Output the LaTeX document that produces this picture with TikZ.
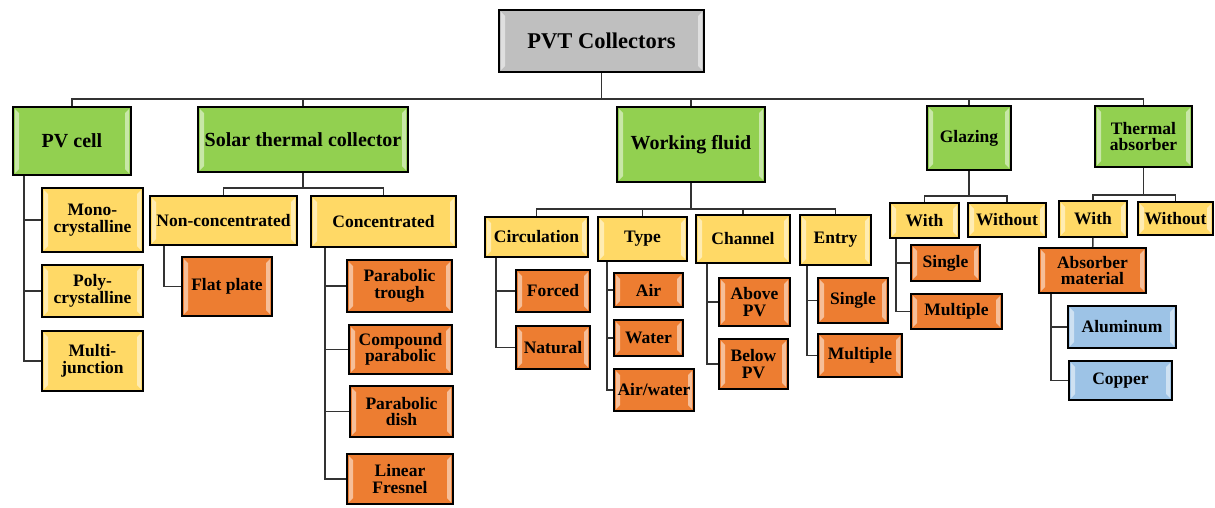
\documentclass[tikz,border=0pt]{standalone}
\usepackage{fontspec}
\setmainfont{Liberation Serif}
\definecolor{PVTGray}{HTML}{BFBFBF}
\definecolor{PVTGreen}{HTML}{92D050}
\definecolor{PVTYellow}{HTML}{FFD966}
\definecolor{PVTOrange}{HTML}{ED7D31}
\definecolor{PVTBlue}{HTML}{9DC3E6}
\begin{document}
\begin{tikzpicture}[
  x=1pt, y=-1pt,
  box/.style={draw=black, line width=1.8pt, align=center, inner sep=0pt,
    font=\fontsize{17.5}{16.5}\selectfont\bfseries,
    path picture={
      \fill[white,opacity=.5] ([xshift=2pt,yshift=-2pt]path picture bounding box.north west) -- ([xshift=6pt,yshift=-6pt]path picture bounding box.north west) -- ([xshift=6pt,yshift=6pt]path picture bounding box.south west) -- ([xshift=2pt,yshift=2pt]path picture bounding box.south west) -- cycle;
      \fill[white,opacity=.5] ([xshift=-2pt,yshift=-2pt]path picture bounding box.north east) -- ([xshift=-6pt,yshift=-6pt]path picture bounding box.north east) -- ([xshift=-6pt,yshift=6pt]path picture bounding box.south east) -- ([xshift=-2pt,yshift=2pt]path picture bounding box.south east) -- cycle;
    }},
  wh/.style 2 args={minimum width=#1pt, minimum height=#2pt},
  rootbox/.style={box, fill=PVTGray, font=\fontsize{22.5}{22}\selectfont\bfseries},
  catbox/.style={box, fill=PVTGreen, font=\fontsize{20}{19}\selectfont\bfseries},
  smallcat/.style={catbox, font=\fontsize{17.5}{16.5}\selectfont\bfseries},
  subbox/.style={box, fill=PVTYellow},
  leafbox/.style={box, fill=PVTOrange},
  metalbox/.style={box, fill=PVTBlue},
  link/.style={draw=black!80, line width=1.5pt}
]
\useasboundingbox (0,0) rectangle (1215,507);

% top level
\node[rootbox, wh={205}{62}] (root) at (601.5,41) {PVT Collectors};
\node[catbox, wh={118}{68}] (pv) at (72,141) {PV cell};
\node[catbox, wh={210}{65}] (stc) at (303,139.5) {Solar thermal collector};
\node[catbox, wh={148}{75}] (wf) at (691,144.5) {Working fluid};
\node[smallcat, wh={84}{64}] (gl) at (969,138) {Glazing};
\node[smallcat, wh={97}{61}] (ta) at (1143.5,136.5) {Thermal\\absorber};

% PV cell
\node[subbox, wh={101}{64}] (mono) at (92.5,220) {Mono-\\crystalline};
\node[subbox, wh={101}{52}] (poly) at (92.5,291) {Poly-\\crystalline};
\node[subbox, wh={101}{60}] (multi) at (92.5,361) {Multi-\\junction};

% solar thermal collector
\node[subbox, wh={147}{49}] (noncon) at (223.5,220.5) {Non-concentrated};
\node[subbox, wh={145}{51}] (conc) at (383.5,221.5) {Concentrated};
\node[leafbox, wh={90}{59}] (flat) at (227,286.5) {Flat plate};
\node[leafbox, wh={105}{52}] (ptrough) at (399.5,286) {Parabolic\\trough};
\node[leafbox, wh={103}{49}] (cpara) at (400.5,349.5) {Compound\\parabolic};
\node[leafbox, wh={103}{51}] (pdish) at (401.5,411.5) {Parabolic\\dish};
\node[leafbox, wh={106}{50}] (lfres) at (400,479) {Linear\\Fresnel};

% working fluid
\node[subbox, wh={103}{40}] (circ) at (536.5,237) {Circulation};
\node[subbox, wh={89}{44}] (type) at (642.5,239) {Type};
\node[subbox, wh={94}{48}] (chan) at (743,239) {Channel};
\node[subbox, wh={71}{50}] (entry) at (835.5,240) {Entry};
\node[leafbox, wh={74}{42}] (forced) at (553,291) {Forced};
\node[leafbox, wh={74}{43}] (natural) at (553,347.5) {Natural};
\node[leafbox, wh={69}{34}] (air) at (648.5,290) {Air};
\node[leafbox, wh={69}{36}] (water) at (648.5,338) {Water};
\node[leafbox, wh={80}{42}] (airwater) at (654,390) {Air/water};
\node[leafbox, wh={71}{48}] (above) at (754.5,302) {Above\\PV};
\node[leafbox, wh={69}{50}] (below) at (753.5,364) {Below\\PV};
\node[leafbox, wh={70}{45}] (esingle) at (853,300.5) {Single};
\node[leafbox, wh={84}{43}] (emulti) at (860,355.5) {Multiple};

% glazing
\node[subbox, wh={69}{35}] (gwith) at (924.5,220.5) {With};
\node[subbox, wh={78}{34}] (gwithout) at (1007,220) {Without};
\node[leafbox, wh={69}{36}] (gsingle) at (945.5,263) {Single};
\node[leafbox, wh={91}{35}] (gmulti) at (956.5,311.5) {Multiple};

% thermal absorber
\node[subbox, wh={68}{36}] (twith) at (1093,219) {With};
\node[subbox, wh={75}{33}] (twithout) at (1175.5,218.5) {Without};
\node[leafbox, wh={107}{45}] (absmat) at (1092.5,270.5) {Absorber\\material};
\node[metalbox, wh={108}{42}] (alu) at (1122,327) {Aluminum};
\node[metalbox, wh={103}{39}] (copper) at (1120.5,380.5) {Copper};

% buses
\coordinate (mainb) at (601.5,99);
\coordinate (stcb) at (303,188);
\coordinate (wfb) at (691,209);
\coordinate (glb) at (969,196);
\coordinate (tab) at (1143.5,195);
\draw[link] (root) -- (mainb);
\draw[link] (pv.north) |- (mainb) -| (ta.north);
\foreach \n in {stc,wf,gl}
  \draw[link] (\n.north) -- (\n.north |- mainb);
\draw[link] (stc) -- (stcb);
\draw[link] (noncon.north) |- (stcb) -| (conc.north);
\draw[link] (wf) -- (wfb);
\draw[link] (circ.north) |- (wfb) -| (entry.north);
\foreach \n in {type,chan}
  \draw[link] (\n.north) -- (\n.north |- wfb);
\draw[link] (gl) -- (glb);
\draw[link] (gwith.north) |- (glb) -| (gwithout.north);
\draw[link] (ta) -- (tab);
\draw[link] (twith.north) |- (tab) -| (twithout.north);
\draw[link] (twith) -- (absmat);

% side spines
\coordinate (pvsp) at (24,176);
\coordinate (ncsp) at (164,246);
\coordinate (cosp) at (325,248);
\coordinate (cisp) at (496,258);
\coordinate (tysp) at (607,262);
\coordinate (chsp) at (707,264);
\coordinate (ensp) at (807,266);
\coordinate (gwsp) at (896,239);
\coordinate (amsp) at (1051,294);
\foreach \c in {mono,poly,multi} \draw[link] (pvsp) |- (\c.west);
\draw[link] (ncsp) |- (flat.west);
\foreach \c in {ptrough,cpara,pdish,lfres} \draw[link] (cosp) |- (\c.west);
\foreach \c in {forced,natural} \draw[link] (cisp) |- (\c.west);
\foreach \c in {air,water,airwater} \draw[link] (tysp) |- (\c.west);
\foreach \c in {above,below} \draw[link] (chsp) |- (\c.west);
\foreach \c in {esingle,emulti} \draw[link] (ensp) |- (\c.west);
\foreach \c in {gsingle,gmulti} \draw[link] (gwsp) |- (\c.west);
\foreach \c in {alu,copper} \draw[link] (amsp) |- (\c.west);
\end{tikzpicture}
\end{document}
